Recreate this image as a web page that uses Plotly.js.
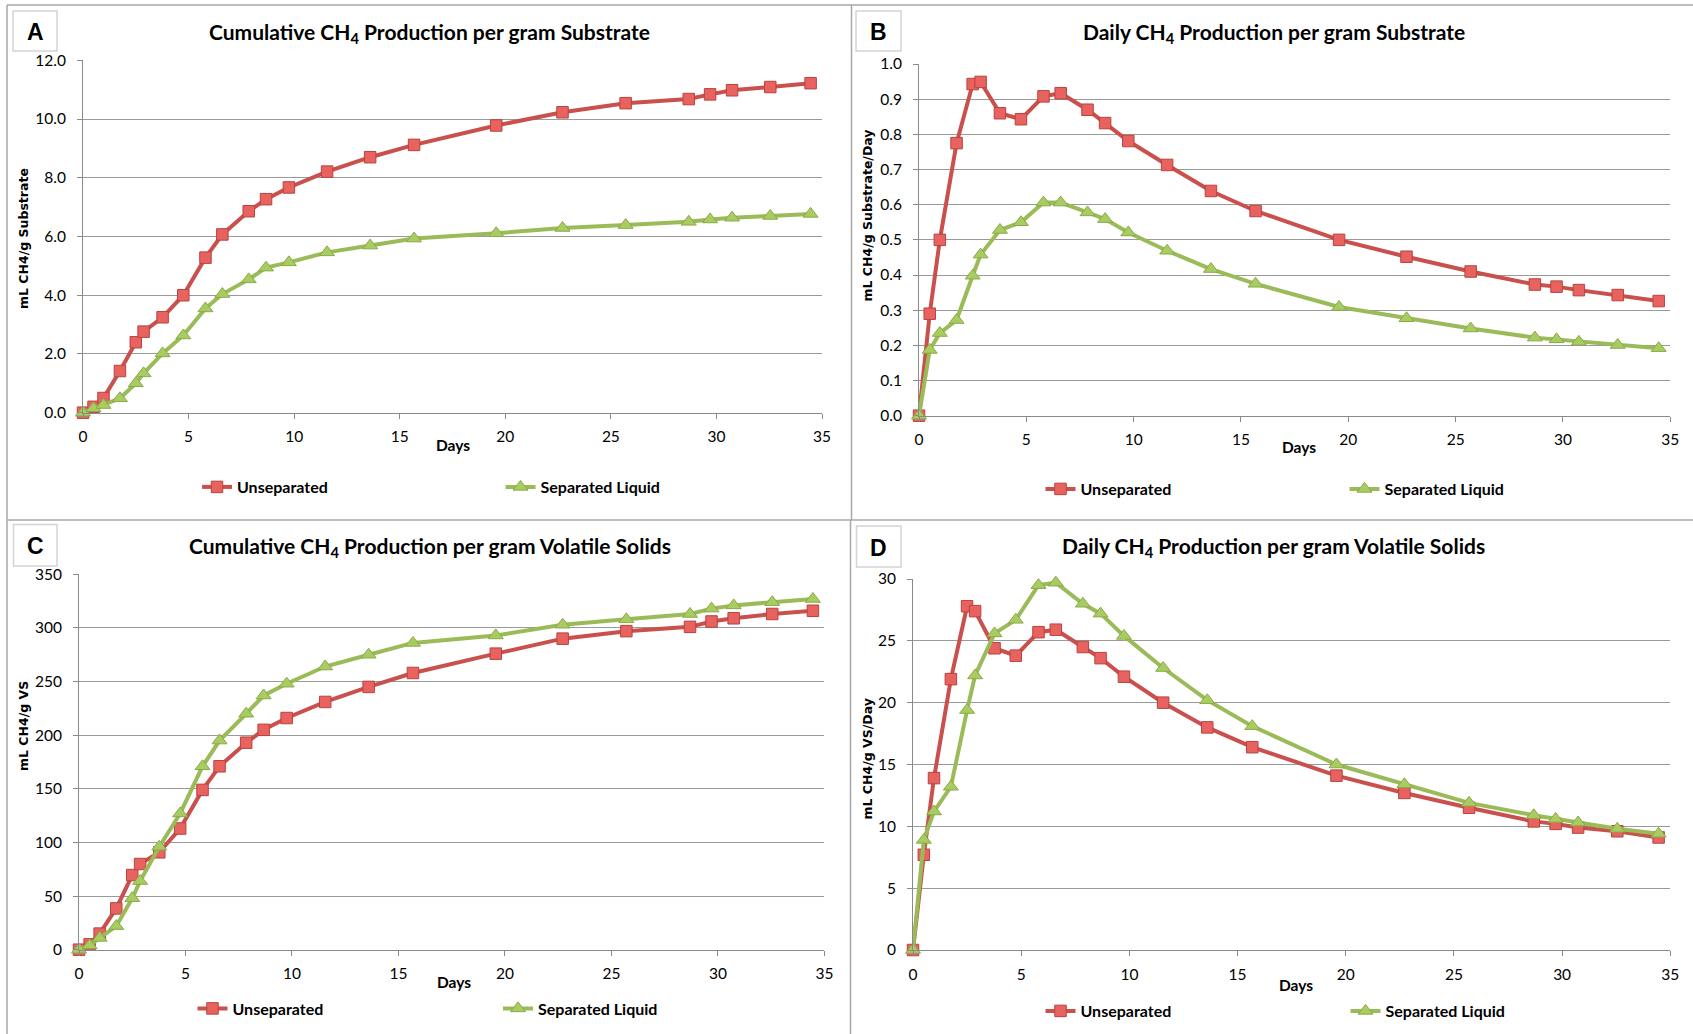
<!DOCTYPE html>
<html>
<head>
<meta charset="utf-8">
<script src="https://cdn.plot.ly/plotly-3.0.1.min.js"></script>
<style>
html,body{margin:0;padding:0;background:#fff;}
#chart{width:1693px;height:1034px;}
</style>
</head>
<body>
<div id="chart"></div>
<script>
// ---------- data ----------
var days = [0, 0.5, 0.97, 1.75, 2.5, 2.87, 3.77, 4.75, 5.8, 6.6, 7.85, 8.67, 9.75, 11.56, 13.6, 15.68, 19.57, 22.71, 25.7, 28.69, 29.7, 30.74, 32.55, 34.46];

var seriesNames = ["Unseparated", "Separated Liquid"];

// A: cumulative mL CH4 / g substrate
var cumSubUnsep = [0.0, 0.2, 0.5, 1.42, 2.4, 2.76, 3.25, 4.0, 5.28, 6.07, 6.86, 7.27, 7.67, 8.21, 8.7, 9.12, 9.78, 10.23, 10.54, 10.68, 10.84, 10.98, 11.09, 11.22];
var cumSubSep   = [0.0, 0.15, 0.26, 0.49, 1.0, 1.34, 2.02, 2.63, 3.55, 4.04, 4.54, 4.94, 5.12, 5.46, 5.69, 5.93, 6.11, 6.29, 6.39, 6.5, 6.58, 6.64, 6.7, 6.77];

// B: daily mL CH4 / g substrate / day
var daySubUnsep = [0.0, 0.29, 0.5, 0.775, 0.943, 0.949, 0.86, 0.843, 0.908, 0.917, 0.87, 0.832, 0.781, 0.713, 0.639, 0.582, 0.5, 0.452, 0.41, 0.373, 0.367, 0.357, 0.343, 0.326];
var daySubSep   = [0.0, 0.187, 0.235, 0.272, 0.398, 0.458, 0.528, 0.55, 0.606, 0.606, 0.578, 0.559, 0.521, 0.469, 0.417, 0.375, 0.309, 0.277, 0.248, 0.222, 0.217, 0.21, 0.201, 0.192];

// C: cumulative mL CH4 / g VS
var cumVSUnsep = [0, 5, 15, 38.5, 69.6, 79.9, 90.8, 113, 149, 171, 193, 205, 216, 231, 245, 258, 276, 290, 297, 301, 306, 309, 313, 316];
var cumVSSep   = [0, 4, 11, 22, 48, 64, 96, 127, 171, 195, 220, 237, 248, 264, 275, 286, 293, 303, 308, 313, 318, 321, 324, 327];

// D: daily mL CH4 / g VS / day
var dayVSUnsep = [0, 7.7, 13.9, 21.9, 27.8, 27.4, 24.4, 23.8, 25.7, 25.9, 24.5, 23.6, 22.1, 20.0, 18.0, 16.4, 14.1, 12.7, 11.5, 10.4, 10.2, 9.9, 9.6, 9.1];
var dayVSSep   = [0, 8.9, 11.2, 13.2, 19.4, 22.2, 25.6, 26.7, 29.5, 29.7, 28.0, 27.2, 25.4, 22.8, 20.2, 18.1, 15.0, 13.4, 11.9, 10.9, 10.6, 10.3, 9.8, 9.4];

var panelLetters = ["A", "B", "C", "D"];
var panelTitles = [
  "Cumulative CH<sub>4</sub> Production per gram Substrate",
  "Daily CH<sub>4</sub> Production per gram Substrate",
  "Cumulative CH<sub>4</sub> Production per gram Volatile Solids",
  "Daily CH<sub>4</sub> Production per gram Volatile Solids"
];
var yTitles = ["mL CH4/g Substrate", "mL CH4/g Substrate/Day", "mL CH4/g VS", "mL CH4/g VS/Day"];
var xTitle = "Days";

// ---------- layout helpers (pixels -> paper) ----------
var W = 1693, H = 1034;
function PX(x){ return x / W; }
function PY(y){ return 1 - y / H; }

var RED_LINE = "#C9504C", RED_FILL = "#E8635F", RED_EDGE = "#B8433F";
var GRN_LINE = "#9BBB59", GRN_FILL = "#A9CC62", GRN_EDGE = "#8AAA48";

var TICKFONT = {family: "Lato, 'Open Sans', sans-serif", size: 15.5, color: "#000"};
var BOLDFONT = "Lato, 'Open Sans', sans-serif";

var panels = [
  {xa:"x",  ya:"y",  plot:[83, 60.3, 822, 412.7],   yr:[0,12],  dt:2,   fmt:".1f",
   unsep:cumSubUnsep, sep:cumSubSep,
   box:[13,11,57,51], title:[429,33], ytitle:[23,239], xtitle:[452.5,445], leg:[206,487,509.5]},
  {xa:"x2", ya:"y2", plot:[919, 64, 1670.3, 415.7],  yr:[0,1],   dt:0.1, fmt:".1f",
   unsep:daySubUnsep, sep:daySubSep,
   box:[856,11,901,51], title:[1273.5,33], ytitle:[866.5,215], xtitle:[1299,447], leg:[1049.5,489,1353.5]},
  {xa:"x3", ya:"y3", plot:[79, 574.3, 824.4, 949.7], yr:[0,350], dt:50,  fmt:"d",
   unsep:cumVSUnsep, sep:cumVSSep,
   box:[13.5,524.5,57,566], title:[429.5,547], ytitle:[23,726], xtitle:[454,982], leg:[201.5,1008.5,507]},
  {xa:"x4", ya:"y4", plot:[913, 579, 1670.3, 950],   yr:[0,30],  dt:5,   fmt:"d",
   unsep:dayVSUnsep, sep:dayVSSep,
   box:[856.5,526,901,567], title:[1273.5,547], ytitle:[866.5,759], xtitle:[1295.5,985], leg:[1049.5,1011,1354.5]}
];

var data = [];
var layout = {
  width: W, height: H,
  margin: {l:0, r:0, t:0, b:0},
  paper_bgcolor: "#fff", plot_bgcolor: "rgba(0,0,0,0)",
  showlegend: true,
  shapes: [], annotations: []
};

panels.forEach(function(p, i){
  var n = i === 0 ? "" : String(i+1);
  var legA = "legend" + (2*i === 0 ? "" : String(2*i+1));
  var legB = "legend" + String(2*i+2);

  data.push({
    x: days, y: p.unsep, name: seriesNames[0], type: "scatter", mode: "lines+markers",
    xaxis: p.xa, yaxis: p.ya, legend: legA, cliponaxis: false,
    line: {color: RED_LINE, width: 4},
    marker: {symbol: "square", size: 11.5, color: RED_FILL, line: {color: RED_EDGE, width: 1}}
  });
  data.push({
    x: days, y: p.sep, name: seriesNames[1], type: "scatter", mode: "lines+markers",
    xaxis: p.xa, yaxis: p.ya, legend: legB, cliponaxis: false,
    line: {color: GRN_LINE, width: 4},
    marker: {symbol: "triangle-up", size: 13, color: GRN_FILL, line: {color: GRN_EDGE, width: 1}}
  });

  layout["xaxis" + n] = {
    domain: [PX(p.plot[0]), PX(p.plot[2])], anchor: p.ya,
    range: [0, 35], dtick: 5, tick0: 0, showgrid: false, zeroline: false,
    showline: true, linecolor: "#8a8a8a", linewidth: 1,
    ticks: "outside", ticklen: 5, tickcolor: "#8a8a8a", tickfont: TICKFONT,
    ticklabelstandoff: 5
  };
  layout["yaxis" + n] = {
    domain: [PY(p.plot[3]), PY(p.plot[1])], anchor: p.xa,
    range: p.yr, dtick: p.dt, tick0: 0, tickformat: p.fmt,
    showgrid: true, gridcolor: "#9a9a9a", gridwidth: 1, zeroline: false,
    showline: true, linecolor: "#8a8a8a", linewidth: 1,
    ticks: "outside", ticklen: 5, tickcolor: "#8a8a8a", tickfont: TICKFONT,
    ticklabelstandoff: 8
  };

  var legCommon = {orientation: "h", xanchor: "left", yanchor: "middle", xref: "paper", yref: "paper",
    bgcolor: "rgba(0,0,0,0)", borderwidth: 0, itemwidth: 30,
    font: {family: BOLDFONT, size: 16, color: "#000", weight: "bold"}};
  layout[legA] = Object.assign({}, legCommon, {x: PX(p.leg[0] - 9), y: PY(p.leg[1])});
  layout[legB] = Object.assign({}, legCommon, {x: PX(p.leg[2] - 9), y: PY(p.leg[1])});

  // label box
  layout.shapes.push({type: "rect", xref: "paper", yref: "paper",
    x0: PX(p.box[0]), x1: PX(p.box[2]), y0: PY(p.box[3]), y1: PY(p.box[1]),
    line: {color: "#d4d4d4", width: 1.5}, fillcolor: "rgba(0,0,0,0)"});
  layout.annotations.push({xref: "paper", yref: "paper", showarrow: false,
    x: PX((p.box[0] + p.box[2]) / 2), y: PY((p.box[1] + p.box[3]) / 2 + 1),
    xanchor: "center", yanchor: "middle", text: "<b>" + panelLetters[i] + "</b>",
    font: {family: "'Liberation Sans', Arial, sans-serif", size: 23, color: "#000"}});
  // title
  layout.annotations.push({xref: "paper", yref: "paper", showarrow: false,
    x: PX(p.title[0]), y: PY(p.title[1]), xanchor: "center", yanchor: "middle",
    text: "<b>" + panelTitles[i] + "</b>",
    font: {family: BOLDFONT, size: 21, color: "#000"}});
  // y title
  layout.annotations.push({xref: "paper", yref: "paper", showarrow: false,
    x: PX(p.ytitle[0]), y: PY(p.ytitle[1]), xanchor: "center", yanchor: "middle",
    textangle: -90, text: "<b>" + yTitles[i] + "</b>",
    font: {family: "'DejaVu Sans', Verdana, sans-serif", size: 12.5, color: "#000"}});
  // x title
  layout.annotations.push({xref: "paper", yref: "paper", showarrow: false,
    x: PX(p.xtitle[0]), y: PY(p.xtitle[1]), xanchor: "center", yanchor: "middle",
    text: "<b>" + xTitle + "</b>",
    font: {family: BOLDFONT, size: 15.5, color: "#000"}});
});

// panel frame lines
var FR = "#a8a8a8";
[[7,5,1693,5],[7,5,7,1034],[851.5,5,851.5,520],[850.5,520,850.5,1034],[7,520,1693,520]].forEach(function(l){
  layout.shapes.push({type: "line", xref: "paper", yref: "paper",
    x0: PX(l[0]), y0: PY(l[1]), x1: PX(l[2]), y1: PY(l[3]),
    line: {color: FR, width: 1.5}});
});

Plotly.newPlot("chart", data, layout, {displayModeBar: false, staticPlot: true});
</script>
</body>
</html>
